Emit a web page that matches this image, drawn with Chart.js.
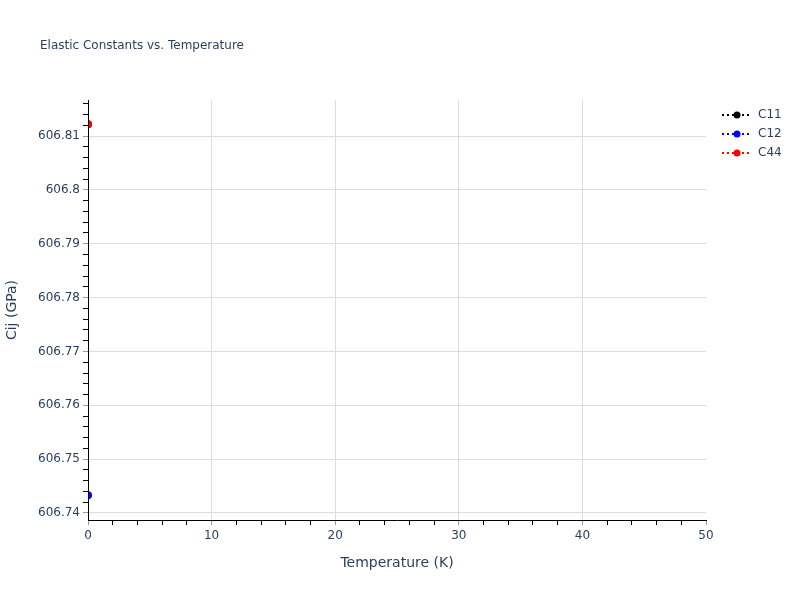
<!DOCTYPE html>
<html>
<head>
<meta charset="utf-8">
<script src="https://cdn.jsdelivr.net/npm/chart.js@4"></script>
<style>
  body { margin: 0; background: #fff; }
  canvas { display: block; }
</style>
</head>
<body>
<canvas id="chart" width="800" height="600"></canvas>
<script>
// data
const temperatures = [0];
const c11 = [606.8122];
const c12 = [606.7433];
const c44 = [606.8122];
const seriesNames = ["C11", "C12", "C44"];
const seriesColors = ["#000000", "#0000ff", "#ff0000"];

// axis ranges and ticks
const xRange = [0, 50];
const xMajorTicks = [0, 10, 20, 30, 40, 50];
const xMinorStep = 2;
const yRange = [606.7387, 606.8167];
const yMajorTicks = [606.74, 606.75, 606.76, 606.77, 606.78, 606.79, 606.8, 606.81];
const yMinorStep = 0.002;

const textColor = "#2a3f5f";
const gridColor = "#dcdcdc";
const fontFamily = '"DejaVu Sans", Verdana, sans-serif';

function isMajor(v, majors) {
  return majors.some((m) => Math.abs(m - v) < 1e-7);
}

function minorTicks(lo, hi, step) {
  const out = [];
  const start = Math.ceil((lo - 1e-9) / step);
  for (let i = start; i * step <= hi + 1e-9; i++) {
    out.push({ value: +(i * step).toFixed(6) });
  }
  return out;
}

// legend swatch: dotted line + marker
function legendSwatch(color) {
  const c = document.createElement("canvas");
  c.width = 30;
  c.height = 10;
  const g = c.getContext("2d");
  g.strokeStyle = color;
  g.lineWidth = 2;
  g.setLineDash([2, 3]);
  g.beginPath();
  g.moveTo(0, 5);
  g.lineTo(30, 5);
  g.stroke();
  g.fillStyle = color;
  g.beginPath();
  g.arc(15, 5, 3.5, 0, Math.PI * 2);
  g.fill();
  return c;
}

// title and legend drawn by hand, plotly style
const decorations = {
  id: "decorations",
  afterDraw(chart) {
    const ctx = chart.ctx;
    ctx.save();
    ctx.fillStyle = textColor;
    ctx.font = "12px " + fontFamily;
    ctx.textBaseline = "middle";
    ctx.textAlign = "left";
    ctx.fillText("Elastic Constants vs. Temperature", 40, 46);

    seriesNames.forEach((name, i) => {
      const y = 114 + i * 19;
      ctx.drawImage(legendSwatch(seriesColors[i]), 722, y - 4);
      ctx.fillStyle = textColor;
      ctx.font = "12px " + fontFamily;
      ctx.fillText(name, 758, y + 1);
    });
    ctx.restore();
  },
};

const seriesData = [c11, c12, c44];

new Chart(document.getElementById("chart"), {
  type: "line",
  data: {
    datasets: seriesNames.map((name, i) => ({
      label: name,
      data: temperatures.map((t, j) => ({ x: t, y: seriesData[i][j] })),
      borderColor: seriesColors[i],
      backgroundColor: seriesColors[i],
      borderDash: [2, 3],
      borderWidth: 2,
      pointRadius: 4,
      pointBorderWidth: 0,
      pointHoverRadius: 4,
      order: seriesNames.length - i,
      clip: 0,
    })),
  },
  options: {
    responsive: false,
    animation: false,
    layout: { padding: { left: 0, top: 100, right: 94, bottom: 28 } },
    plugins: {
      legend: { display: false },
      title: { display: false },
      tooltip: { enabled: false },
    },
    scales: {
      x: {
        type: "linear",
        min: xRange[0],
        max: xRange[1],
        afterBuildTicks: (s) => { s.ticks = minorTicks(xRange[0], xRange[1], xMinorStep); },
        afterFit: (s) => { s.height = 52; },
        border: { display: true, color: "#000", width: 1, z: 1 },
        grid: {
          drawTicks: true,
          tickLength: 5,
          color: (c) => (isMajor(c.tick.value, xMajorTicks) && c.tick.value !== xRange[0] && c.tick.value !== xRange[1] ? gridColor : "rgba(0,0,0,0)"),
          tickColor: (c) => (isMajor(c.tick.value, xMajorTicks) ? "#999" : "#000"),
        },
        ticks: {
          autoSkip: false,
          maxRotation: 0,
          padding: 4,
          color: textColor,
          font: { family: fontFamily, size: 12 },
          callback: (v) => (isMajor(v, xMajorTicks) ? String(v) : ""),
        },
        title: {
          display: true,
          text: "Temperature (K)",
          color: textColor,
          font: { family: fontFamily, size: 14 },
          padding: { top: 8, bottom: 0 },
        },
      },
      y: {
        type: "linear",
        min: yRange[0],
        max: yRange[1],
        afterBuildTicks: (s) => { s.ticks = minorTicks(yRange[0], yRange[1], yMinorStep); },
        afterFit: (s) => { s.width = 88; },
        border: { display: true, color: "#000", width: 1, z: 1 },
        grid: {
          drawTicks: true,
          tickLength: 5,
          color: (c) => (isMajor(c.tick.value, yMajorTicks) ? gridColor : "rgba(0,0,0,0)"),
          tickColor: (c) => (isMajor(c.tick.value, yMajorTicks) ? "#999" : "#000"),
        },
        ticks: {
          autoSkip: false,
          padding: 3,
          color: textColor,
          font: { family: fontFamily, size: 12 },
          callback: (v) => (isMajor(v, yMajorTicks) ? String(+v.toFixed(2)) : ""),
        },
        title: {
          display: true,
          text: "Cij (GPa)",
          color: textColor,
          font: { family: fontFamily, size: 14 },
          padding: { bottom: 0 },
        },
      },
    },
  },
  plugins: [decorations],
});
</script>
</body>
</html>
